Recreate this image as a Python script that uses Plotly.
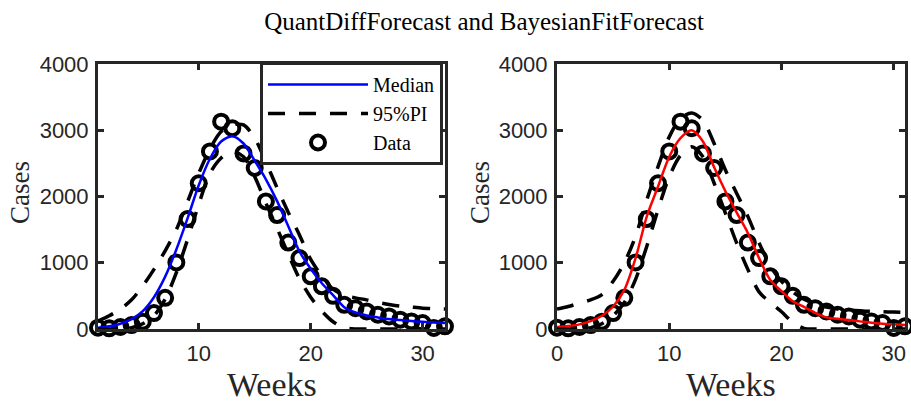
import plotly.graph_objects as go

# ---------------- data ----------------
weeks_left = list(range(1, 33))
weeks_right = list(range(0, 32))

cases = [20, 10, 30, 60, 110, 240, 470, 1005, 1660, 2200, 2680, 3130, 3030, 2650,
         2430, 1925, 1720, 1305, 1070, 795, 645, 500, 365, 315, 265, 215, 190, 140,
         115, 90, 15, 40]

# QuantDiffForecast (left panel)
qd_median = [20, 40, 80, 150, 270, 480, 790, 1200, 1670, 2170, 2570, 2830, 2910, 2800,
             2540, 2260, 1930, 1550, 1170, 910, 690, 510, 330, 250, 205, 175, 150, 135,
             120, 108, 98, 90]
qd_upper = [120, 200, 300, 440, 650, 900, 1180, 1500, 1920, 2350, 2720, 2980, 3080, 3080,
            2880, 2520, 2130, 1760, 1420, 1050, 800, 600, 510, 470, 440, 400, 370, 345,
            330, 315, 305, 300]
qd_lower = [0, 0, 0, 20, 80, 200, 450, 850, 1350, 1880, 2350, 2580, 2680, 2600,
            2300, 1900, 1520, 1130, 760, 480, 270, 110, 20, 0, 0, 0, 0, 0,
            0, 0, 0, 0]

# BayesianFitForecast (right panel)
bf_median = [30, 45, 70, 120, 200, 340, 590, 1070, 1700, 2150, 2600, 2880, 3000, 2830,
             2440, 2080, 1760, 1450, 1070, 740, 570, 420, 335, 245, 175, 155, 135, 115,
             95, 80, 70, 60]
bf_upper = [300, 340, 390, 440, 520, 720, 1000, 1400, 1950, 2450, 2900, 3180, 3260, 3150,
            2800, 2400, 2050, 1700, 1300, 950, 720, 560, 450, 380, 330, 300, 285, 275,
            265, 260, 255, 250]
bf_lower = [0, 0, 0, 20, 80, 200, 400, 750, 1250, 1800, 2300, 2620, 2750, 2600,
            2200, 1750, 1300, 900, 560, 400, 260, 100, 10, 0, 0, 0, 0, 0,
            0, 0, 0, 0]

y_ticks = [0, 1000, 2000, 3000, 4000]
x_ticks_left = [10, 20, 30]
x_ticks_right = [0, 10, 20, 30]

# ---------------- styles ----------------
W, H = 911, 403
AX = "#262626"
SERIF = "Liberation Serif"
SANS = "Liberation Sans"
DASH = "17px,14px"

fig = go.Figure()


def add_panel(xs, med, up, lo, xa, ya, med_color, show):
    fig.add_trace(go.Scatter(
        x=xs, y=cases, mode="markers", name="Data", xaxis=xa, yaxis=ya,
        marker=dict(symbol="circle-open", size=14, color="black",
                    line=dict(width=4, color="black")),
        cliponaxis=False, showlegend=show, legendrank=3))
    fig.add_trace(go.Scatter(
        x=xs, y=med, mode="lines", name="Median", xaxis=xa, yaxis=ya,
        line=dict(color=med_color, width=2.5, shape="spline", smoothing=0.8),
        showlegend=show, legendrank=1))
    fig.add_trace(go.Scatter(
        x=xs, y=up, mode="lines", name="95%PI", xaxis=xa, yaxis=ya,
        line=dict(color="black", width=3.5, dash=DASH, shape="spline", smoothing=0.8),
        showlegend=show, legendrank=2, legendgroup="pi" + xa))
    fig.add_trace(go.Scatter(
        x=xs, y=lo, mode="lines", name="95%PI", xaxis=xa, yaxis=ya,
        line=dict(color="black", width=3.5, dash=DASH, shape="spline", smoothing=0.8),
        showlegend=False, legendgroup="pi" + xa))


add_panel(weeks_left, qd_median, qd_upper, qd_lower, "x", "y", "#0000FF", True)
add_panel(weeks_right, bf_median, bf_upper, bf_lower, "x2", "y2", "#FF0000", False)

axis_common = dict(
    showline=True, linewidth=3, linecolor=AX, mirror="allticks",
    ticks="inside", ticklen=6, tickwidth=3, tickcolor=AX,
    showgrid=False, zeroline=False, automargin=False,
    tickfont=dict(family=SANS, size=22, color=AX),
)

ydom = [(H - 329) / H, (H - 64) / H]

fig.update_layout(
    width=W, height=H,
    margin=dict(l=0, r=0, t=0, b=0, autoexpand=False),
    paper_bgcolor="white", plot_bgcolor="white",
    title=dict(text="QuantDiffForecast and BayesianFitForecast",
               x=484 / W, y=1 - 21 / H, xanchor="center", yanchor="middle",
               xref="paper", yref="paper", automargin=False,
               font=dict(family=SERIF, size=25, color="black")),
    xaxis=dict(domain=[98 / W, 445 / W], range=[1, 32], tickvals=x_ticks_left,
               anchor="y", ticklabelstandoff=3, **axis_common),
    yaxis=dict(domain=ydom, range=[0, 4000], tickvals=y_ticks, anchor="x",
               ticklabelstandoff=2, **axis_common),
    xaxis2=dict(domain=[557 / W, 905 / W], range=[0, 31], tickvals=x_ticks_right,
                anchor="y2", ticklabelstandoff=3, **axis_common),
    yaxis2=dict(domain=ydom, range=[0, 4000], tickvals=y_ticks, anchor="x2",
                ticklabelstandoff=2, **axis_common),
    legend=dict(x=443 / W, y=(H - 62) / H, xanchor="right", yanchor="top",
                xref="paper", yref="paper",
                bgcolor="white", bordercolor=AX, borderwidth=3,
                font=dict(family=SERIF, size=20, color="black"),
                itemwidth=100, tracegroupgap=0),
    showlegend=True,
)

for xdom_center in ((98 + 445) / 2 / W, (557 + 905) / 2 / W):
    fig.add_annotation(text="Weeks", x=xdom_center, y=(H - 384) / H,
                       xref="paper", yref="paper", showarrow=False,
                       xanchor="center", yanchor="middle",
                       font=dict(family=SERIF, size=34, color=AX))

for xc in (20 / W, 480 / W):
    fig.add_annotation(text="Cases", x=xc, y=(H - 193) / H, textangle=-90,
                       xref="paper", yref="paper", showarrow=False,
                       xanchor="center", yanchor="middle",
                       font=dict(family=SERIF, size=27, color=AX))

fig.write_html("out.html")
